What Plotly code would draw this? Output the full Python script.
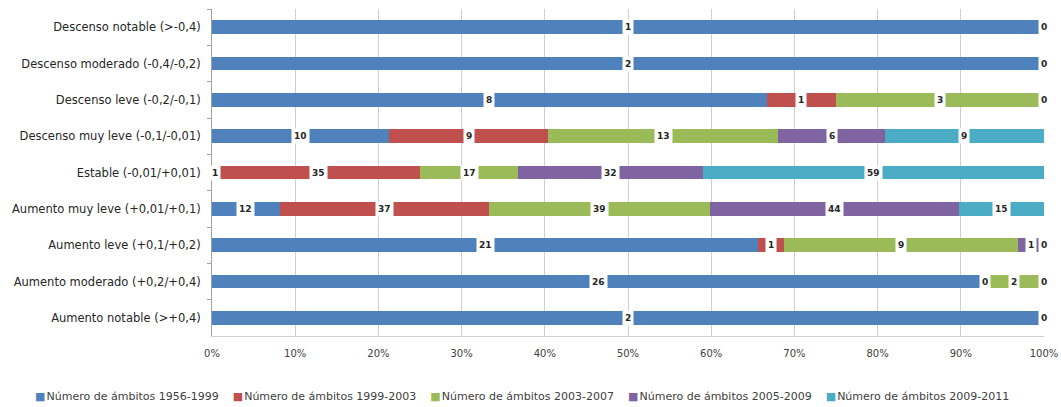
import plotly.graph_objects as go

categories = [
    "Descenso notable (>-0,4)",
    "Descenso moderado (-0,4/-0,2)",
    "Descenso leve (-0,2/-0,1)",
    "Descenso muy leve (-0,1/-0,01)",
    "Estable (-0,01/+0,01)",
    "Aumento muy leve (+0,01/+0,1)",
    "Aumento leve (+0,1/+0,2)",
    "Aumento moderado (+0,2/+0,4)",
    "Aumento notable (>+0,4)",
]

series_names = [
    "Número de ámbitos 1956-1999",
    "Número de ámbitos 1999-2003",
    "Número de ámbitos 2003-2007",
    "Número de ámbitos 2005-2009",
    "Número de ámbitos 2009-2011",
]

s1956_1999 = [1, 2, 8, 10, 1, 12, 21, 26, 2]
s1999_2003 = [None, None, 1, 9, 35, 37, 1, 0, None]
s2003_2007 = [None, None, 3, 13, 17, 39, 9, 2, None]
s2005_2009 = [None, None, None, 6, 32, 44, 1, None, None]
s2009_2011 = [0, 0, 0, 9, 59, 15, 0, 0, 0]

colors = ["#4F81BD", "#C0504D", "#9BBB59", "#8064A2", "#4BACC6"]

all_series = [s1956_1999, s1999_2003, s2003_2007, s2005_2009, s2009_2011]

totals = [sum(v for v in vals if v is not None) for vals in zip(*all_series)]

FONT = "DejaVu Sans, Liberation Sans, Arial"

fig = go.Figure()
annotations = []
cum = [0.0] * len(categories)
for name, vals, col in zip(series_names, all_series, colors):
    pct = [(v / t * 100 if v is not None else None) for v, t in zip(vals, totals)]
    fig.add_trace(go.Bar(
        y=categories, x=pct, name=name, orientation="h",
        marker=dict(color=col, line=dict(width=0)),
        hoverinfo="skip", showlegend=False,
    ))
    for i, (v, p) in enumerate(zip(vals, pct)):
        if v is None:
            continue
        center = cum[i] + p / 2
        annotations.append(dict(
            x=center, y=categories[i], xref="x", yref="y",
            text="<b>%d</b>" % v, showarrow=False,
            font=dict(family=FONT, size=9, color="#262626"),
            bgcolor="white", borderpad=2,
        ))
        cum[i] += p

# custom legend row (one line, as in the original)
legend_parts = []
for name, col in zip(series_names, colors):
    legend_parts.append('<span style="color:%s">■</span>&#8202;%s' % (col, name))
legend_text = "&nbsp;&nbsp;&nbsp;&nbsp;".join(legend_parts)
PLOT_L, PLOT_R, PLOT_T, PLOT_B = 212, 1044, 9, 336
annotations.append(dict(
    x=(522 - PLOT_L) / (PLOT_R - PLOT_L), y=(PLOT_B - 396) / (PLOT_B - PLOT_T),
    xref="paper", yref="paper",
    text=legend_text, showarrow=False, xanchor="center", yanchor="middle",
    font=dict(family=FONT, size=11, color="#404040"),
))

fig.update_layout(
    barmode="stack",
    bargap=0.62,
    width=1061, height=407,
    margin=dict(l=PLOT_L, r=1061 - PLOT_R, t=PLOT_T, b=407 - PLOT_B, autoexpand=False),
    paper_bgcolor="white", plot_bgcolor="white",
    font=dict(family=FONT, size=10, color="#404040"),
    annotations=annotations,
    showlegend=False,
)
fig.update_xaxes(
    range=[0, 100], dtick=10, ticksuffix="%", showgrid=True,
    gridcolor="#D0D0D0", gridwidth=1, zeroline=False, showline=True,
    linecolor="#D0D0D0", ticks="", tickfont=dict(family=FONT, size=10, color="#404040"),
    ticklabelstandoff=8, automargin=False, fixedrange=True,
)
fig.update_yaxes(
    autorange="reversed", showline=True, linecolor="#A0A0A0",
    ticks="outside", ticklen=4, tickcolor="#A0A0A0", tickson="boundaries",
    showgrid=False, tickfont=dict(family=FONT, size=11.5, color="#262626"),
    ticklabelstandoff=8, automargin=False, fixedrange=True,
)

fig.write_html("out.html", config={"displayModeBar": False},
               post_script="document.body.style.margin='0';")
